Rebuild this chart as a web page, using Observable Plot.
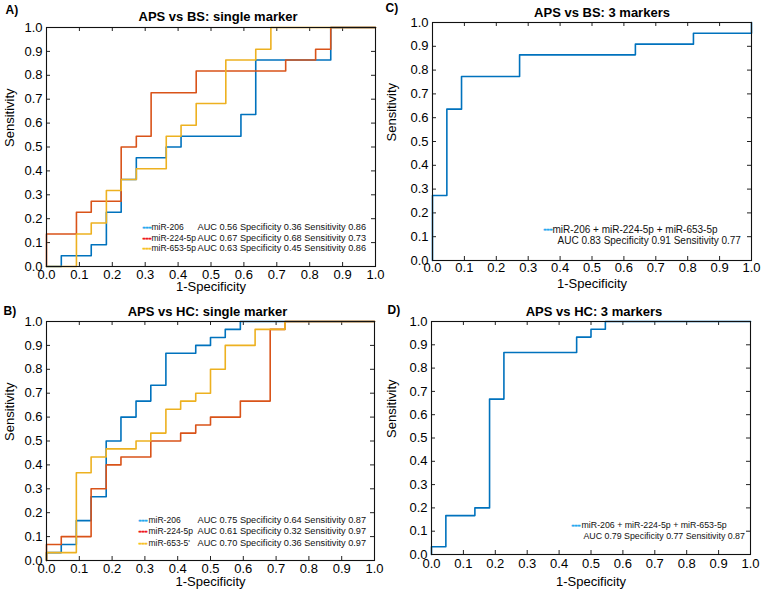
<!DOCTYPE html>
<html><head><meta charset="utf-8">
<script src="https://cdn.jsdelivr.net/npm/d3@7"></script>
<script src="https://cdn.jsdelivr.net/npm/@observablehq/plot@0.6"></script>
<style>
body{margin:0;background:#fff;}
#wrap{position:relative;width:764px;height:593px;font-family:"Liberation Sans",Arial,sans-serif;}
.panel{position:absolute;}
</style></head><body><div id="wrap"></div>
<script>
// tick values
const tickValues = [0,0.1,0.2,0.3,0.4,0.5,0.6,0.7,0.8,0.9,1.0];

// Panel A: APS vs BS, single markers (1-specificity, sensitivity)
const aMiR206X   = [0,0.045,0.136,0.182,0.227,0.273,0.364,0.409,0.591,0.636,0.864,1];
const aMiR206Y   = [0,0.045,0.091,0.227,0.364,0.455,0.5,0.545,0.636,0.864,1,1];
const aMiR224X   = [0,0,0.091,0.136,0.227,0.273,0.318,0.455,0.727,0.818,0.864,1];
const aMiR224Y   = [0,0.136,0.227,0.273,0.5,0.545,0.727,0.818,0.864,0.909,1,1];
const aMiR653X   = [0,0.091,0.136,0.182,0.227,0.273,0.364,0.409,0.455,0.545,0.636,0.682,1];
const aMiR653Y   = [0,0.136,0.182,0.318,0.364,0.409,0.545,0.591,0.682,0.864,0.909,1,1];

// Panel C: APS vs BS, 3 markers
const cComboX = [0,0,0.045,0.091,0.273,0.636,0.818,1];
const cComboY = [0,0.273,0.636,0.773,0.864,0.909,0.955,1];

// Panel B: APS vs HC, single markers
const bMiR206X = [0,0,0.045,0.091,0.136,0.182,0.227,0.273,0.318,0.364,0.455,0.5,0.545,0.591,1];
const bMiR206Y = [0,0.033,0.067,0.167,0.267,0.5,0.6,0.667,0.733,0.867,0.9,0.933,0.967,1,1];
const bMiR224X = [0,0,0.045,0.136,0.182,0.227,0.318,0.409,0.455,0.5,0.591,0.682,0.727,1];
const bMiR224Y = [0,0.067,0.1,0.3,0.4,0.433,0.5,0.533,0.567,0.6,0.667,0.967,1,1];
const bMiR653X = [0,0,0.091,0.136,0.182,0.273,0.318,0.364,0.409,0.455,0.5,0.545,0.636,0.727,1];
const bMiR653Y = [0,0.033,0.367,0.433,0.467,0.5,0.533,0.633,0.667,0.7,0.8,0.9,0.967,1,1];

// Panel D: APS vs HC, 3 markers
const dComboX = [0,0,0.045,0.136,0.182,0.227,0.455,0.5,0.545,1];
const dComboY = [0,0.033,0.167,0.2,0.667,0.867,0.933,0.967,1,1];

// legend texts
const singleNames = ["miR-206","miR-224-5p","miR-653-5p"];
const singleNamesB = ["miR-206","miR-224-5p","miR-653-5'"];
const aAUC = [0.56,0.67,0.63], aSpec = [0.36,0.68,0.45], aSens = [0.86,0.73,0.86];
const bAUC = [0.75,0.61,0.70], bSpec = [0.64,0.32,0.36], bSens = [0.87,0.97,0.97];
const comboName = "miR-206 + miR-224-5p + miR-653-5p";
const cStats = {auc:0.83, spec:0.91, sens:0.77};
const dStats = {auc:0.79, spec:0.77, sens:0.87};

const lineColors = ["#0072BD","#D95319","#EDB120"];
const legendColors = ["#22a8f0","#f01018","#f8c020"];
const f2 = d3.format(".2f");

function pts(xs, ys){ return xs.map((x,i)=>({x, y: ys[i]})); }

function panel(o){
  const iw = o.width - o.ml - o.mr, ih = o.height - o.mt - o.mb;
  const marks = [];
  // inward ticks on all four sides
  marks.push(Plot.tickX(tickValues,{x:d=>d, insetTop: ih-4, stroke:"#222"}));
  marks.push(Plot.tickX(tickValues,{x:d=>d, insetBottom: ih-4, stroke:"#222"}));
  marks.push(Plot.tickY(tickValues,{y:d=>d, insetRight: iw-4, stroke:"#222"}));
  marks.push(Plot.tickY(tickValues,{y:d=>d, insetLeft: iw-4, stroke:"#222"}));
  o.series.forEach((s,i)=>{
    marks.push(Plot.line(pts(s.x,s.y),{x:"x",y:"y",curve:"step-after",stroke:s.color,strokeWidth:1.6}));
  });
  marks.push(Plot.frame({stroke:"#111", strokeWidth:1.1}));
  marks.push(Plot.axisX(tickValues,{tickSize:0, tickPadding:o.xpad, tickFormat:d3.format(".1f"), label:null}));
  marks.push(Plot.axisY(tickValues,{tickSize:0, tickPadding:4, tickFormat:d3.format(".1f"), label:null}));
  const mid = {lineAnchor:"middle"};
  marks.push(Plot.text(["1-Specificity"],{...mid, text:d=>d, frameAnchor:"bottom", dy:o.xlabDy, fontSize:13}));
  marks.push(Plot.text(["Sensitivity"],{...mid, text:d=>d, frameAnchor:"left", dx:o.ylabDx, rotate:-90, fontSize:13}));
  marks.push(Plot.text([o.title],{...mid, text:d=>d, frameAnchor:"top", dx:o.titleDx, dy:o.titleDy, fontSize:13, fontWeight:"bold"}));
  marks.push(Plot.text([o.letter],{...mid, text:d=>d, frameAnchor:"top-left", textAnchor:"start", dx:o.letterDx, dy:o.letterDy, fontSize:12, fontWeight:"bold"}));
  o.legend.forEach(r=>{
    if (r.dash) marks.push(Plot.text(["---"],{...mid, text:d=>d, frameAnchor:"bottom-left", textAnchor:"start", dx:r.dashDx, dy:r.dy, fill:r.dash, stroke:r.dash, strokeWidth:0.5, fontSize:9, fontWeight:"bold"}));
    r.parts.forEach(p=>{
      marks.push(Plot.text([p.t],{...mid, text:d=>d, frameAnchor:"bottom-left", textAnchor:"start", dx:p.dx, dy:r.dy, fontSize:p.fs, fill:"#111"}));
    });
  });
  const svg = Plot.plot({
    width:o.width, height:o.height,
    marginLeft:o.ml, marginRight:o.mr, marginTop:o.mt, marginBottom:o.mb,
    x:{domain:[0,1]}, y:{domain:[0,1]},
    style:{fontFamily:'"Liberation Sans", Arial, sans-serif', fontSize:"13px", background:"transparent", overflow:"visible", color:"#000"},
    marks
  });
  const div = document.createElement("div");
  div.className = "panel";
  div.style.left = o.left+"px"; div.style.top = o.top+"px";
  div.appendChild(svg);
  document.getElementById("wrap").appendChild(div);
}

function singleLegend(names, auc, spec, sens, dashDx, nameDx, statDx, dys, nfs, sfs){
  return names.map((n,i)=>({dash:legendColors[i], dashDx, dy:dys[i],
    parts:[{t:n, dx:nameDx, fs:nfs},{t:`AUC ${f2(auc[i])} Specificity ${f2(spec[i])} Sensitivity ${f2(sens[i])}`, dx:statDx, fs:sfs}]}));
}
function comboLegend(st, dashDx, nameDx, statDx, dys, fs){
  return [
    {dash:legendColors[0], dashDx, dy:dys[0], parts:[{t:comboName, dx:nameDx, fs}]},
    {dy:dys[1], parts:[{t:`AUC ${f2(st.auc)} Specificity ${f2(st.spec)} Sensitivity ${f2(st.sens)}`, dx:statDx, fs}]}
  ];
}

// A
panel({left:0, top:0, width:382, height:296, ml:46, mr:7, mt:27, mb:30,
  xpad:3, xlabDy:20, ylabDx:-37, title:"APS vs BS: single marker", titleDx:7, titleDy:-11,
  letter:"A)", letterDx:-41, letterDy:-17,
  series:[{x:aMiR206X,y:aMiR206Y,color:lineColors[0]},{x:aMiR224X,y:aMiR224Y,color:lineColors[1]},{x:aMiR653X,y:aMiR653Y,color:lineColors[2]}],
  legend: singleLegend(singleNames,aAUC,aSpec,aSens, 96, 105, 151, [-39,-28.5,-18], 8.5, 9.2)
});
// C
panel({left:382, top:0, width:382, height:296, ml:50, mr:13, mt:22, mb:36,
  xpad:2, xlabDy:23, ylabDx:-41, title:"APS vs BS: 3 markers", titleDx:10, titleDy:-10,
  letter:"C)", letterDx:-47, letterDy:-14.5,
  series:[{x:cComboX,y:cComboY,color:lineColors[0]}],
  legend: comboLegend(cStats, 111, 120, 125, [-31,-19.5], 10)
});
// B
panel({left:0, top:296, width:382, height:297, ml:46, mr:8, mt:25, mb:33,
  xpad:3, xlabDy:21, ylabDx:-37, title:"APS vs HC: single marker", titleDx:-3, titleDy:-10,
  letter:"B)", letterDx:-43, letterDy:-10,
  series:[{x:bMiR206X,y:bMiR206Y,color:lineColors[0]},{x:bMiR224X,y:bMiR224Y,color:lineColors[1]},{x:bMiR653X,y:bMiR653Y,color:lineColors[2]}],
  legend: singleLegend(singleNamesB,bAUC,bSpec,bSens, 92, 102, 151, [-40,-29,-17.5], 8.5, 9.2)
});
// D
panel({left:382, top:296, width:382, height:297, ml:49, mr:14, mt:25, mb:39,
  xpad:4, xlabDy:27, ylabDx:-40, title:"APS vs HC: 3 markers", titleDx:3, titleDy:-10,
  letter:"D)", letterDx:-44, letterDy:-11,
  series:[{x:dComboX,y:dComboY,color:lineColors[0]}],
  legend: comboLegend(dStats, 140, 150, 152, [-29,-18], 8.8)
});
</script></body></html>
